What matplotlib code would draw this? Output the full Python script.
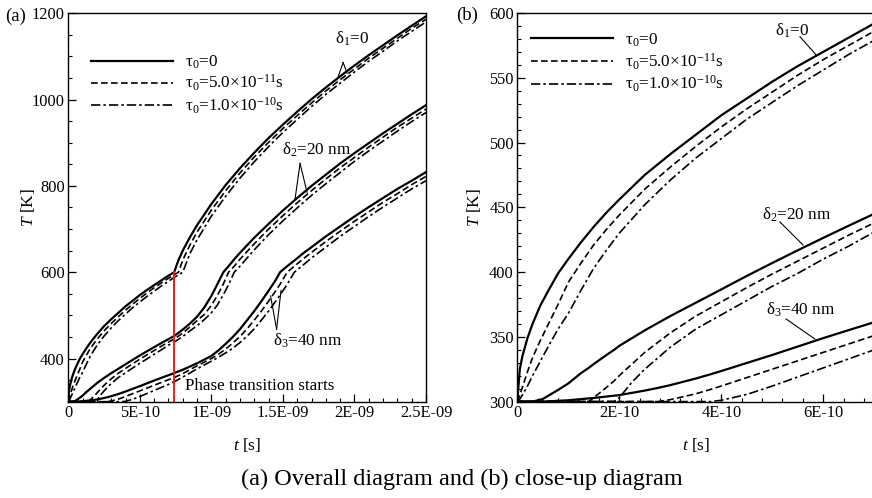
import numpy as np
import matplotlib
matplotlib.use('Agg')
import matplotlib.pyplot as plt
from matplotlib.ticker import MultipleLocator

plt.rcParams['font.family'] = ['Liberation Serif', 'DejaVu Serif']
plt.rcParams['mathtext.fontset'] = 'custom'
plt.rcParams['mathtext.rm'] = 'Liberation Serif'
plt.rcParams['mathtext.it'] = 'Liberation Serif:italic'
plt.rcParams['lines.scale_dashes'] = False

# ---------------- data (time in units of 1e-10 s, temperature in K) ----------------
t_d1 = [0, 0.05, 0.1, 0.2, 0.3, 0.45, 0.6, 0.8, 1.0, 1.25, 1.5, 1.75, 2.0, 2.5, 3.0, 3.5, 4.0, 4.5,
        5.0, 5.5, 6.0, 6.5, 7.0, 7.4, 7.7, 8.0, 8.5, 9, 10, 11, 12, 13, 14, 15, 16, 17, 18, 19, 20,
        21, 22, 23, 24, 25]
T_d1_tau0 = [300, 325, 335, 349, 360, 374, 385, 399, 410, 423, 435, 446, 456, 475, 491, 506, 521, 534,
             547, 559, 570, 581, 592, 600, 628, 650, 681, 709, 758, 802, 841, 877, 911, 942, 972, 1001,
             1028, 1054, 1079, 1103, 1126, 1149, 1171, 1193]
T_d1_tau1 = [300, 305, 311, 323, 334, 347, 359, 375, 392, 407, 421, 433, 444, 464, 481, 497, 512, 526,
             539, 552, 564, 575, 586, 594, 600, 628, 663, 693, 744, 789, 830, 867, 901, 933, 963, 992,
             1020, 1046, 1071, 1096, 1119, 1142, 1165, 1186]
T_d1_tau2 = [300, 302, 305, 312, 320, 331, 342, 356, 368, 386, 403, 417, 430, 452, 471, 488, 503, 518,
             531, 544, 556, 568, 579, 588, 594, 600, 643, 675, 730, 776, 818, 856, 891, 924, 954, 984,
             1012, 1038, 1064, 1089, 1112, 1136, 1158, 1180]

t_d2 = [0, 0.3, 0.5, 0.8, 1.0, 1.25, 1.4, 1.5, 1.75, 1.9, 2.0, 2.25, 2.5, 3.0, 3.5, 4.0, 4.5, 5.0, 5.5,
        6.0, 6.5, 7.0, 7.4, 8.0, 8.5, 9.0, 9.5, 10.0, 10.4, 10.84, 11.2, 11.6, 12, 13, 14, 15, 16, 17,
        18, 19, 20, 21, 22, 23, 24, 25]
T_d2_tau0 = [300, 300, 302, 309, 314, 322, 326, 329, 336, 340, 343, 349, 355, 366, 376.3, 386.6, 397,
             407, 416.8, 426.4, 435.8, 445, 452, 467, 481, 497, 518, 545, 571, 600, 614, 630, 645, 680,
             712, 743, 772, 800, 826, 852, 876, 899, 922, 944, 966, 987]
T_d2_tau1 = [300, 300, 300, 300, 300, 300, 300, 303, 311, 316, 320, 329, 338, 353, 366, 377, 388, 398.5,
             408.5, 418.5, 428.5, 438, 445, 459, 473, 488, 502, 523, 545, 573, 600, 614, 630, 666, 700,
             731, 761, 789, 816, 842, 866, 890, 913, 936, 957, 978]
T_d2_tau2 = [300, 300, 300, 300, 300, 300, 300, 300, 300, 300, 303, 315, 325, 342, 356, 367, 378, 389,
             399, 410, 420, 431, 438, 451, 464, 476, 490, 506, 523, 548, 571, 600, 614, 652, 687, 719,
             749, 778, 805, 831, 857, 881, 904, 927, 949, 970]

t_d3 = [0, 0.5, 1.0, 1.5, 2.0, 2.5, 2.75, 3.0, 3.5, 3.8, 4.0, 4.5, 5.0, 5.5, 6.0, 6.5, 7.0, 7.4, 8, 9,
        10, 10.5, 11, 11.5, 12, 12.5, 13, 13.5, 14, 14.5, 14.8, 15.3, 15.8, 16.5, 17, 18, 19, 20, 21,
        22, 23, 24, 25]
T_d3_tau0 = [300, 300, 301, 302.8, 305, 308.5, 310.5, 312.7, 317.8, 321.2, 323.6, 329.8, 336, 342.5,
             349, 355.2, 361.3, 366.3, 374, 389, 406, 419, 434, 450, 468, 489, 510, 533, 557, 582, 600,
             614, 627, 646, 658, 683, 706, 729, 751, 772, 793, 812, 832]
T_d3_tau1 = [300, 300, 300, 300, 300, 300, 300, 301.5, 306, 309.5, 312, 318.5, 325, 331.5, 338, 344.5,
             351, 356, 365, 383, 400, 410, 422, 436, 451, 469, 489, 510, 533, 557, 572, 600, 614, 633,
             646, 671, 695, 718, 740, 762, 782, 803, 822]
T_d3_tau2 = [300, 300, 300, 300, 300, 300, 300, 300, 300, 300, 301, 305.5, 312, 319, 326, 333, 340,
             346, 357, 376, 394, 403, 413, 424, 437, 452, 469, 489, 510, 533, 547, 572, 600, 619, 633,
             658, 683, 706, 729, 751, 772, 793, 812]

phase_start_t = 7.39   # 1e-10 s
phase_start_T = 600    # K

series_labels = ['τ$_0$=0', 'τ$_0$=5.0×10$^{-11}$s', 'τ$_0$=1.0×10$^{-10}$s']
group_labels = ['δ$_1$=0', 'δ$_2$=20 nm', 'δ$_3$=40 nm']

xticks_a = [0, 5e-10, 1e-9, 1.5e-9, 2e-9, 2.5e-9]
xticklabels_a = ['0', '5E-10', '1E-09', '1.5E-09', '2E-09', '2.5E-09']
yticks_a = [400, 600, 800, 1000, 1200]
xticks_b = [0, 2e-10, 4e-10, 6e-10]
xticklabels_b = ['0', '2E-10', '4E-10', '6E-10']
yticks_b = [300, 350, 400, 450, 500, 550, 600]

# ---------------- figure ----------------
fig = plt.figure(figsize=(8.72, 4.98), dpi=100)
axa = fig.add_axes([0.0783, 0.1934, 0.4102, 0.7799])
axb = fig.add_axes([0.5932, 0.1936, 0.4094, 0.7803])

styles = [dict(linestyle='-', linewidth=1.6),
          dict(linestyle=(0, (4.8, 2.4)), linewidth=1.2),
          dict(linestyle=(0, (6.7, 2.2, 1.8, 2.2)), linewidth=1.2)]

groups = [(t_d1, [T_d1_tau0, T_d1_tau1, T_d1_tau2]),
          (t_d2, [T_d2_tau0, T_d2_tau1, T_d2_tau2]),
          (t_d3, [T_d3_tau0, T_d3_tau1, T_d3_tau2])]

handles = {}
for ax in (axa, axb):
    hs = []
    for gi, (tg, Ts) in enumerate(groups):
        x = np.array(tg) * 1e-10
        for si, T in enumerate(Ts):
            ln, = ax.plot(x, T, color='black', **styles[si])
            if gi == 0:
                hs.append(ln)
    handles[ax] = hs

# red line: phase transition starts
axa.plot([phase_start_t * 1e-10] * 2, [300, phase_start_T], color='#e8201a', linewidth=1.4, zorder=3)

# axes formatting
axa.set_xlim(0, 2.5e-9)
axa.set_ylim(300, 1200)
axa.set_xticks(xticks_a)
axa.set_xticklabels(xticklabels_a)
axa.set_yticks(yticks_a)
axa.xaxis.set_minor_locator(MultipleLocator(1e-10))
axa.yaxis.set_minor_locator(MultipleLocator(50))

axb.set_xlim(0, 7e-10)
axb.set_ylim(300, 600)
axb.set_xticks(xticks_b)
axb.set_xticklabels(xticklabels_b)
axb.set_yticks(yticks_b)
axb.xaxis.set_minor_locator(MultipleLocator(4e-11))
axb.yaxis.set_minor_locator(MultipleLocator(10))

FS = 12.3
for ax in (axa, axb):
    ax.tick_params(which='major', direction='in', length=6, width=0.9, labelsize=11.8, pad=2.5,
                   top=False, right=False)
    ax.tick_params(which='minor', direction='in', length=3.2, width=0.8, top=False, right=False)
    for sp in ax.spines.values():
        sp.set_linewidth(1.0)
    ax.set_xlabel('$t$ [s]', fontsize=12.5)
    ax.set_ylabel('$T$ [K]', fontsize=12.5)
    ax.xaxis.set_label_coords(0.5, -0.088)
axa.yaxis.set_label_coords(-0.088, 0.5)
axb.yaxis.set_label_coords(-0.095, 0.5)

# legends
axa.legend(handles[axa], series_labels, loc='upper left', bbox_to_anchor=(0.0635, 0.896),
           frameon=False, fontsize=FS, handlelength=4.8, handletextpad=0.7,
           labelspacing=0.12, borderpad=0, borderaxespad=0)
axb.legend(handles[axb], series_labels, loc='upper left', bbox_to_anchor=(0.0375, 0.953),
           frameon=False, fontsize=FS, handlelength=4.8, handletextpad=0.7,
           labelspacing=0.15, borderpad=0, borderaxespad=0)

# annotations in (a)
def tt(v):
    return v * 1e-10

lw_ann = 0.8
axa.text(tt(19.83), 1142, group_labels[0], fontsize=FS, ha='center', va='center')
axa.plot([tt(19.21), tt(18.79)], [1086, 1046], color='black', lw=lw_ann)
axa.plot([tt(19.21), tt(19.49)], [1086, 1061], color='black', lw=lw_ann)

axa.text(tt(17.39), 883, group_labels[1], fontsize=FS, ha='center', va='center')
axa.plot([tt(16.20), tt(15.85)], [852, 770], color='black', lw=lw_ann)
axa.plot([tt(16.20), tt(16.69)], [852, 785], color='black', lw=lw_ann)

axa.text(tt(16.76), 440, group_labels[2], fontsize=FS, ha='center', va='center')
axa.plot([tt(14.56), tt(14.14)], [468, 545], color='black', lw=lw_ann)
axa.plot([tt(14.56), tt(14.87)], [468, 558], color='black', lw=lw_ann)

axa.text(tt(8.16), 337, 'Phase transition starts', fontsize=FS, ha='left', va='center')

# annotations in (b)
axb.text(tt(5.386), 586, group_labels[0], fontsize=FS, ha='center', va='center')
axb.plot([tt(5.543), tt(5.857)], [581.7, 567.8], color='black', lw=lw_ann)
axb.text(tt(5.484), 444, group_labels[1], fontsize=FS, ha='center', va='center')
axb.plot([tt(5.15), tt(5.602)], [438.7, 420.9], color='black', lw=lw_ann)
axb.text(tt(5.56), 370.7, group_labels[2], fontsize=FS, ha='center', va='center')
axb.plot([tt(5.27), tt(5.837)], [363.8, 348.3], color='black', lw=lw_ann)

# panel letters and caption
fig.text(5 / 872, 1 - 16.5 / 498, '(a)', fontsize=13.5, ha='left', va='center')
fig.text(456 / 872, 1 - 15 / 498, '(b)', fontsize=13.5, ha='left', va='center')
fig.text(462 / 872, 19 / 498, '(a) Overall diagram and (b) close-up diagram', fontsize=17.5,
         ha='center', va='center')

fig.savefig('out.png', dpi=100)
